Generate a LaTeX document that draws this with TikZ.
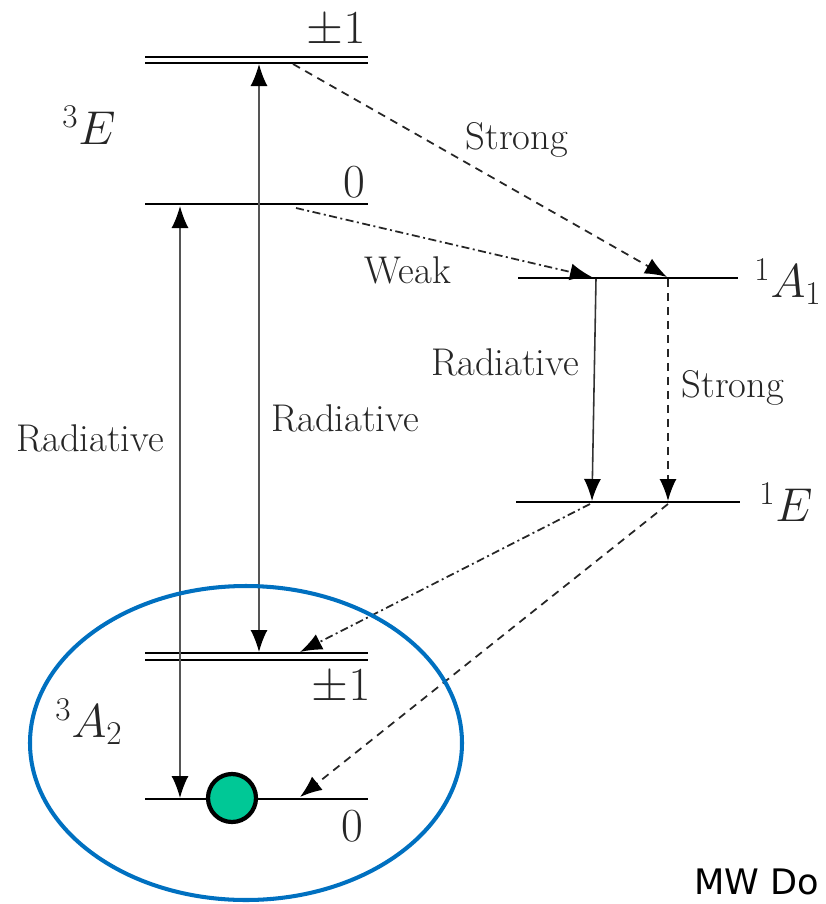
\RequirePackage{fix-cm}
\documentclass[tikz,border=0pt]{standalone}
\usepackage{fontspec}
\newfontfamily\creditfont{DejaVu Sans}
\usetikzlibrary{arrows.meta}
\definecolor{nvBlue}{HTML}{0070C0}
\definecolor{nvGreen}{HTML}{00C896}
\definecolor{nvGray}{HTML}{555555}
\tikzset{
  level/.style={line width=1.4pt,black},
  lbl/.style={font=\fontsize{22}{26}\selectfont,text=black!85,inner sep=0pt},
  mlbl/.style={font=\fontsize{27}{31}\selectfont,text=black!85,inner sep=0pt},
  radline/.style={{Latex[length=0.44cm,width=0.34cm,color=black]}-{Latex[length=0.44cm,width=0.34cm,color=black]},line width=0.9pt,nvGray},
  radarrow/.style={-{Latex[length=0.44cm,width=0.34cm,color=black]},line width=0.9pt,black!80},
  strongline/.style={-{Latex[length=0.44cm,width=0.34cm,color=black]},line width=1pt,black!85,
    dash pattern=on 0.16cm off 0.12cm},
  weakline/.style={-{Latex[length=0.44cm,width=0.34cm,color=black]},line width=1pt,black!85,
    dash pattern=on 0.16cm off 0.07cm on 0.04cm off 0.07cm}
}
\begin{document}
\begin{tikzpicture}[x=0.02cm,y=-0.02cm]
\useasboundingbox (0,0) rectangle (826,904);
\clip (0,0) rectangle (826,904);

% levels
\draw[level] (145,57) -- (368,57);
\draw[level] (145,63) -- (368,63);
\draw[level] (145,204) -- (368,204);
\draw[level] (518,278) -- (738,278);
\draw[level] (516,502) -- (740,502);
\draw[level] (145,653) -- (368,653);
\draw[level] (145,660) -- (368,660);
\draw[level] (145,799) -- (368,799);

% level labels
\node[mlbl] (ePm) at (336,30) {$\pm1$};
\node[mlbl] (eZero) at (354,182) {$0$};
\node[mlbl] (eName) at (89,125) {${}^3E$};
\node[mlbl] (aOne) at (788,282) {${}^1A_1$};
\node[mlbl] (sE) at (786,502) {${}^1E$};
\node[mlbl] (gPm) at (341,687) {$\pm1$};
\node[mlbl] (gZero) at (352,826) {$0$};
\node[mlbl] (gName) at (89,722) {${}^3A_2$};

% arrow ends
\coordinate (ePmA) at (259,64);
\coordinate (ePmB) at (293,64);
\coordinate (eZeroA) at (180,206);
\coordinate (eZeroB) at (296,208);
\coordinate (aOneA) at (592,277);
\coordinate (aOneB) at (667,277);
\coordinate (aOneC) at (596,279);
\coordinate (aOneD) at (668,279);
\coordinate (sEA) at (592,501);
\coordinate (sEB) at (668,501);
\coordinate (sEC) at (590,504);
\coordinate (sED) at (668,504);
\coordinate (gPmA) at (259,652);
\coordinate (gPmB) at (300,652);
\coordinate (gZeroA) at (180,798);
\coordinate (gZeroB) at (300,797);

% transitions
\draw[radline] (gPmA) -- (ePmA);
\draw[radline] (gZeroA) -- (eZeroA);
\draw[strongline] (ePmB) -- (aOneB);
\draw[weakline] (eZeroB) -- (aOneA);
\draw[radarrow] (aOneC) -- (sEA);
\draw[strongline] (aOneD) -- (sEB);
\draw[weakline] (sEC) -- (gPmB);
\draw[strongline] (sED) -- (gZeroB);

% transition labels
\node[lbl] (strongA) at (517,140) {Strong};
\node[lbl] (weakA) at (408,270) {Weak};
\node[lbl] (radC) at (505,362) {Radiative};
\node[lbl] (strongB) at (733,388) {Strong};
\node[lbl] (radA) at (90,438) {Radiative};
\node[lbl] (radB) at (345,418) {Radiative};

% ground state
\draw[nvBlue,line width=2.3pt] (246,743) ellipse [x radius=216, y radius=157];
\node[circle,draw=black,line width=2.4pt,fill=nvGreen,minimum size=0.96cm,inner sep=0pt] (spin) at (232,798) {};

\node[anchor=base west,inner sep=0pt,font=\creditfont\fontsize{20}{24}\selectfont] (credit) at (694,894) {MW Do};
\end{tikzpicture}
\end{document}
